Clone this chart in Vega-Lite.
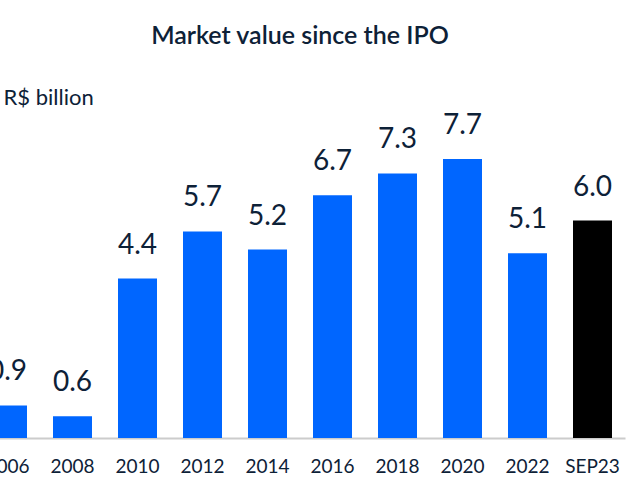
{
  "$schema": "https://vega.github.io/schema/vega-lite/v6.json",
  "width": 640,
  "height": 328,
  "autosize": {"type": "none"},
  "padding": {"top": 110, "left": 0, "right": 0, "bottom": 44},
  "background": "white",
  "title": {
    "text": "Market value since the IPO",
    "anchor": "middle",
    "dx": -20,
    "offset": 17,
    "baseline": "alphabetic",
    "font": "Lato",
    "fontSize": 25,
    "fontWeight": 600,
    "color": "#0d2137"
  },
  "config": {
    "view": {"stroke": null},
    "font": "Lato"
  },
  "data": {
    "values": [
      {"period": "2006", "value": 0.9, "kind": "year"},
      {"period": "2008", "value": 0.6, "kind": "year"},
      {"period": "2010", "value": 4.4, "kind": "year"},
      {"period": "2012", "value": 5.7, "kind": "year"},
      {"period": "2014", "value": 5.2, "kind": "year"},
      {"period": "2016", "value": 6.7, "kind": "year"},
      {"period": "2018", "value": 7.3, "kind": "year"},
      {"period": "2020", "value": 7.7, "kind": "year"},
      {"period": "2022", "value": 5.1, "kind": "year"},
      {"period": "SEP23", "value": 6.0, "kind": "ytd"}
    ]
  },
  "encoding": {
    "x": {
      "field": "period",
      "type": "nominal",
      "sort": null,
      "scale": {"range": [-25, 625], "paddingInner": 0.4, "paddingOuter": 0.2},
      "axis": {
        "title": null,
        "labelAngle": 0,
        "labelFont": "Lato",
        "labelFontSize": 19,
        "labelColor": "#0d2137",
        "labelPadding": 19,
        "ticks": false,
        "domainColor": "#cccccc",
        "domainWidth": 2
      }
    },
    "y": {
      "field": "value",
      "type": "quantitative",
      "scale": {"domain": [0, 9.05], "nice": false, "zero": true},
      "axis": {
        "title": "R$ billion",
        "titleAngle": 0,
        "titleX": 3,
        "titleY": -6,
        "titleAlign": "left",
        "titleBaseline": "alphabetic",
        "titleFont": "Lato",
        "titleFontSize": 22,
        "titleFontWeight": "normal",
        "titleColor": "#0d2137",
        "labels": false,
        "ticks": false,
        "domain": false,
        "grid": false
      }
    }
  },
  "layer": [
    {
      "mark": {"type": "bar"},
      "encoding": {
        "color": {
          "field": "kind",
          "type": "nominal",
          "scale": {"domain": ["year", "ytd"], "range": ["#0066ff", "#000000"]},
          "legend": null
        }
      }
    },
    {
      "mark": {"type": "text", "baseline": "alphabetic", "dy": -25, "fontSize": 28, "font": "Lato", "color": "#0d2137"},
      "encoding": {
        "text": {"field": "value", "type": "quantitative", "format": ".1f"}
      }
    }
  ]
}
